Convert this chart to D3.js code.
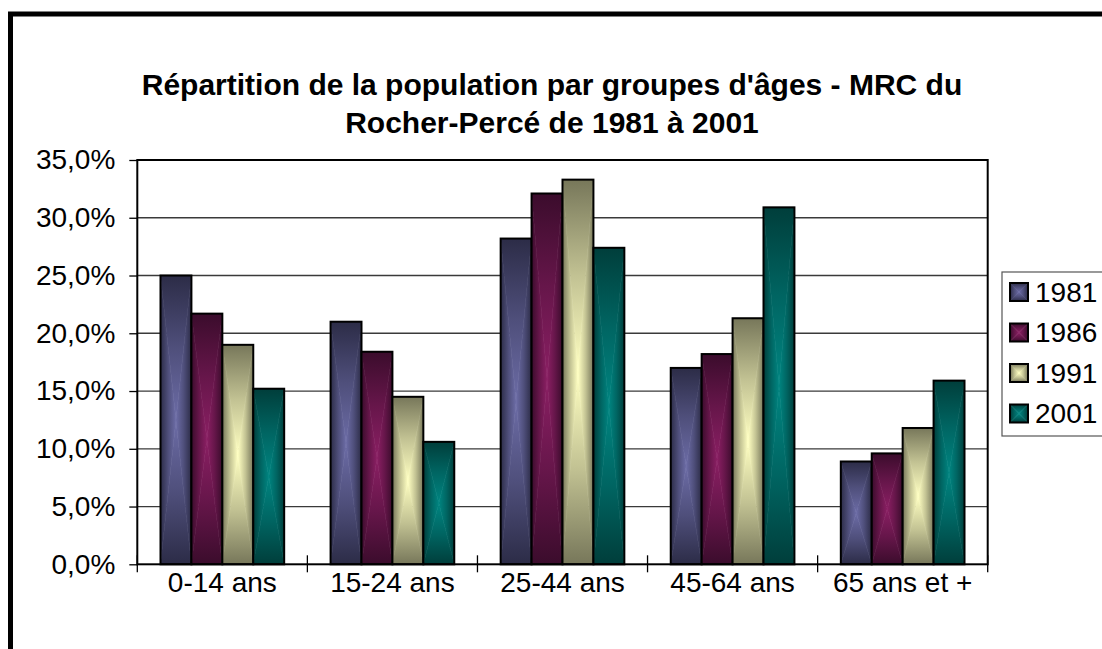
<!DOCTYPE html>
<html>
<head>
<meta charset="utf-8">
<script src="https://cdn.jsdelivr.net/npm/d3@7"></script>
<style>
  body { margin: 0; background: #fff; }
  text { font-family: "Liberation Sans", Arial, sans-serif; fill: #000; }
</style>
</head>
<body>
<div id="chart"></div>
<script>
// data (percent)
var categories = ["0-14 ans", "15-24 ans", "25-44 ans", "45-64 ans", "65 ans et +"];
var years = ["1981", "1986", "1991", "2001"];
var v1981 = [25.0, 21.0, 28.2, 17.0, 8.9];
var v1986 = [21.7, 18.4, 32.1, 18.2, 9.6];
var v1991 = [19.0, 14.5, 33.3, 21.3, 11.8];
var v2001 = [15.2, 10.6, 27.4, 30.9, 15.9];
var yTicks = [0, 5, 10, 15, 20, 25, 30, 35];
var titleLines = ["Répartition de la population par groupes d'âges - MRC du", "Rocher-Percé de 1981 à 2001"];

var seriesValues = [v1981, v1986, v1991, v2001];

// edge (dark) and center (light) colours of each series
var colEdge = ["#2c2c47", "#3b0c2c", "#77775a", "#003e3b"];
var colCenter = ["#6c6ca6", "#8a1f63", "#ffffc2", "#008581"];

var svgWidth = 1102, svgHeight = 649;
var plot = { left: 137.3, right: 987.7, top: 160, bottom: 564.3 };

var svg = d3.select("#chart").append("svg")
    .attr("width", svgWidth)
    .attr("height", svgHeight);

// outer chart frame (runs off the picture on the right and bottom)
svg.append("rect")
    .attr("x", 10.5).attr("y", 14)
    .attr("width", 1200).attr("height", 800)
    .attr("fill", "#fff")
    .attr("stroke", "#000")
    .attr("stroke-width", 5);

// gradients : one per side of the bar, for a "from center" rectangle shading
var defs = svg.append("defs");
var sides = {
    top: [0, 0, 0, 1],
    bot: [0, 1, 0, 0],
    left: [0, 0, 1, 0],
    right: [1, 0, 0, 0]
};
years.forEach(function(yr, i) {
    Object.keys(sides).forEach(function(s) {
        var c = sides[s];
        var lg = defs.append("linearGradient")
            .attr("id", "g" + i + "-" + s)
            .attr("x1", c[0]).attr("y1", c[1])
            .attr("x2", c[2]).attr("y2", c[3]);
        var mid = d3.interpolateRgb(colEdge[i], colCenter[i])(0.55);
        lg.append("stop").attr("offset", 0).attr("stop-color", colEdge[i]);
        lg.append("stop").attr("offset", 0.5).attr("stop-color", mid);
        lg.append("stop").attr("offset", 1).attr("stop-color", colCenter[i]);
    });
});

function shadedRect(g, x, y, w, h, i) {
    var cx = x + w / 2, cy = y + h / 2;
    var polys = {
        top: [[x, y], [x + w, y], [cx, cy]],
        bot: [[x, y + h], [x + w, y + h], [cx, cy]],
        left: [[x, y], [x, y + h], [cx, cy]],
        right: [[x + w, y], [x + w, y + h], [cx, cy]]
    };
    Object.keys(polys).forEach(function(s) {
        g.append("polygon")
            .attr("points", polys[s].map(function(p) { return p.join(","); }).join(" "))
            .attr("fill", "url(#g" + i + "-" + s + ")")
            .attr("stroke", "url(#g" + i + "-" + s + ")")
            .attr("stroke-width", 0.6);
    });
    g.append("rect")
        .attr("x", x).attr("y", y)
        .attr("width", w).attr("height", h)
        .attr("fill", "none")
        .attr("stroke", "#000")
        .attr("stroke-width", 2);
}

// scales
var x0 = d3.scaleBand()
    .domain(categories)
    .range([plot.left, plot.right])
    .paddingInner(0).paddingOuter(0);

var x1 = d3.scaleBand()
    .domain(years)
    .range([0, x0.bandwidth()])
    .paddingInner(0).paddingOuter(0.75);

var y = d3.scaleLinear()
    .domain([0, 35])
    .range([plot.bottom, plot.top]);

// gridlines
svg.append("g")
    .selectAll("line")
    .data(yTicks.slice(1, -1))
    .enter()
    .append("line")
    .attr("x1", plot.left).attr("x2", plot.right)
    .attr("y1", function(d) { return y(d); })
    .attr("y2", function(d) { return y(d); })
    .attr("stroke", "#3a3a3a")
    .attr("stroke-width", 1.3);

// bars
var barsGroup = svg.append("g");
categories.forEach(function(cat, c) {
    years.forEach(function(yr, i) {
        var val = seriesValues[i][c];
        shadedRect(barsGroup, x0(cat) + x1(yr), y(val), x1.bandwidth(), y(0) - y(val), i);
    });
});

// plot area border
svg.append("rect")
    .attr("x", plot.left).attr("y", plot.top)
    .attr("width", plot.right - plot.left)
    .attr("height", plot.bottom - plot.top)
    .attr("fill", "none")
    .attr("stroke", "#000")
    .attr("stroke-width", 2);

// y axis
var leftAxis = d3.axisLeft(y)
    .tickValues(yTicks)
    .tickSize(8)
    .tickPadding(14)
    .tickFormat(function(d) { return d.toFixed(1).replace(".", ",") + "%"; });

var yAxis = svg.append("g")
    .attr("transform", `translate(${plot.left},0)`)
    .call(leftAxis);
yAxis.select(".domain").remove();
yAxis.selectAll("line").attr("stroke", "#000").attr("stroke-width", 1.3);
yAxis.selectAll("text")
    .attr("font-size", "28px")
    .attr("font-family", "Liberation Sans, Arial, sans-serif")
    .attr("fill", "#000");

// x axis : labels centred, tick marks on category boundaries
var bottomAxis = d3.axisBottom(x0).tickSize(0).tickPadding(8);
var xAxis = svg.append("g")
    .attr("transform", `translate(0,${plot.bottom})`)
    .call(bottomAxis);
xAxis.select(".domain").remove();
xAxis.selectAll("text")
    .attr("font-size", "28px")
    .attr("font-family", "Liberation Sans, Arial, sans-serif")
    .attr("fill", "#000");

var bounds = categories.map(function(c) { return x0(c); }).concat([plot.right]);
svg.append("g")
    .selectAll("line")
    .data(bounds)
    .enter()
    .append("line")
    .attr("x1", function(d) { return d; })
    .attr("x2", function(d) { return d; })
    .attr("y1", plot.bottom - 9)
    .attr("y2", plot.bottom + 8)
    .attr("stroke", "#000")
    .attr("stroke-width", 1.3);

// title
var title = svg.append("text")
    .attr("text-anchor", "middle")
    .attr("font-size", "30px")
    .attr("font-weight", "bold");
titleLines.forEach(function(t, k) {
    title.append("tspan")
        .attr("x", 552)
        .attr("y", 95 + k * 38)
        .text(t);
});

// legend
var legend = svg.append("g");
legend.append("rect")
    .attr("x", 1002).attr("y", 272)
    .attr("width", 130).attr("height", 164)
    .attr("fill", "#fff")
    .attr("stroke", "#555")
    .attr("stroke-width", 1.2);

years.forEach(function(yr, i) {
    var cy = 292 + i * 40.5;
    shadedRect(legend, 1010, cy - 9, 18, 18, i);
    legend.append("text")
        .attr("x", 1035)
        .attr("y", cy)
        .attr("dy", "0.35em")
        .attr("font-size", "28px")
        .text(yr);
});
</script>
</body>
</html>
